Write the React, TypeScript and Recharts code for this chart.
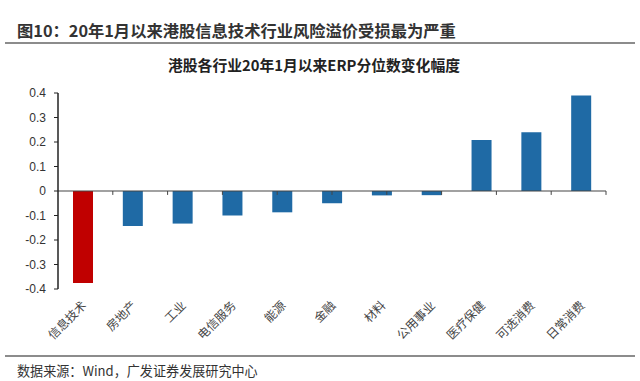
import { BarChart, Bar, XAxis, YAxis, Cell, ReferenceLine } from "recharts"

const industries = ["信息技术", "房地产", "工业", "电信服务", "能源", "金融", "材料", "公用事业", "医疗保健", "可选消费", "日常消费"]
const erpChange = [-0.375, -0.143, -0.133, -0.1, -0.087, -0.05, -0.018, -0.017, 0.208, 0.24, 0.39]
const yTicks = [-0.4, -0.3, -0.2, -0.1, 0, 0.1, 0.2, 0.3, 0.4]
const highlight = "信息技术"

const data = industries.map((name, i) => ({ name, value: erpChange[i] }))
const boundaries = industries.map((_, i) => i + 1)

const cjk = '"Noto Sans CJK SC", "Liberation Sans", sans-serif'

function CategoryTick(props: any) {
  const { x, payload } = props
  return (
    <text
      x={x + 2}
      y={304}
      transform={`rotate(-45 ${x + 2} 304)`}
      textAnchor="end"
      dominantBaseline="middle"
      fontSize={12}
      fill="#444"
      fontFamily={cjk}
    >
      {payload.value}
    </text>
  )
}

export default function App() {
  return (
    <div style={{ position: "absolute", left: 0, top: 0, width: 640, height: 381, background: "#fff", fontFamily: cjk }}>
      <div style={{ position: "absolute", left: 17, top: 19, fontSize: 16.3, fontWeight: 700, color: "#333", lineHeight: "22px", whiteSpace: "nowrap" }}>
        图10：20年1月以来港股信息技术行业风险溢价受损最为严重
      </div>
      <div style={{ position: "absolute", left: 5, right: 5, top: 42, height: 2, background: "#8c8c8c" }} />
      <div style={{ position: "absolute", left: 168, top: 55, fontSize: 14.8, fontWeight: 700, color: "#222", lineHeight: "20px", whiteSpace: "nowrap" }}>
        港股各行业20年1月以来ERP分位数变化幅度
      </div>
      <BarChart
        width={640}
        height={381}
        data={data}
        margin={{ top: 93, right: 34, left: 18, bottom: 32 }}
        style={{ position: "absolute", left: 0, top: 0 }}
      >
        <XAxis
          xAxisId="cat"
          dataKey="name"
          axisLine={false}
          tickLine={false}
          interval={0}
          height={60}
          tick={<CategoryTick />}
        />
        <XAxis xAxisId="b" type="number" domain={[0, 11]} hide />
        <YAxis
          domain={[-0.4, 0.4]}
          ticks={yTicks}
          width={40}
          interval={0}
          axisLine={{ stroke: "#222", strokeWidth: 1.5 }}
          tickLine={{ stroke: "#222" }}
          tickSize={4}
          tickMargin={8}
          tick={{ fontSize: 12, fill: "#333", fontFamily: '"Liberation Sans", Arial, sans-serif' }}
          tickFormatter={(v: number) => (v === 0 ? "0" : v.toFixed(1))}
        />
        <Bar xAxisId="cat" dataKey="value" barSize={20} isAnimationActive={false}>
          {data.map((d) => (
            <Cell key={d.name} fill={d.name === highlight ? "#C00000" : "#1F6AA5"} />
          ))}
        </Bar>
        <ReferenceLine xAxisId="cat" y={0} stroke="#444" strokeWidth={1.2} />
        {boundaries.map((b) => (
          <ReferenceLine
            key={b}
            xAxisId="b"
            segment={[{ x: b, y: 0 }, { x: b, y: -0.016 }]}
            stroke="#444"
            strokeWidth={1}
          />
        ))}
      </BarChart>
      <div style={{ position: "absolute", left: 5, right: 5, top: 355, height: 2, background: "#8c8c8c" }} />
      <div style={{ position: "absolute", left: 17, top: 362, fontSize: 13.1, color: "#333", lineHeight: "18px", whiteSpace: "nowrap" }}>
        数据来源：Wind，广发证券发展研究中心
      </div>
    </div>
  )
}
